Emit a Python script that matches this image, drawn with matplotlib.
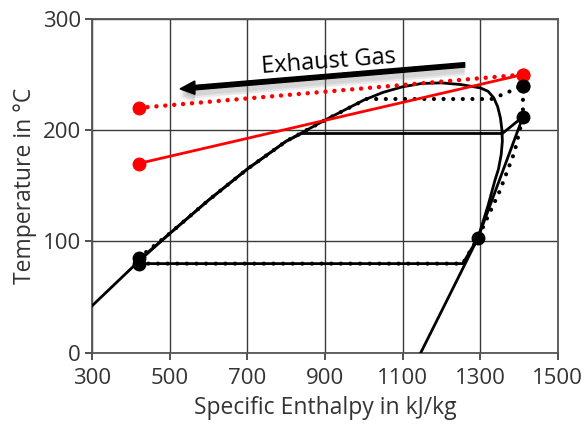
import matplotlib.pyplot as plt
import matplotlib.patheffects as pe
from matplotlib.patches import Polygon, FancyArrow

plt.rcParams['font.family'] = ['Open Sans', 'DejaVu Sans']

# saturation curve of the working fluid (bubble side up, over the top, dew side down)
sat_h = [300, 420, 500, 600, 700, 800, 900, 1000, 1050, 1100, 1150, 1200, 1250,
         1300, 1320, 1335, 1345, 1352, 1356, 1357, 1354, 1347, 1338, 1320, 1294,
         1250, 1200, 1147]
sat_t = [42, 82, 107, 137, 165, 190, 209, 227, 234, 239, 242, 242.5, 241,
         238, 235, 229, 221, 211, 200, 190, 178, 165, 155, 132, 103,
         72, 37, 0]

# cycle 1 (solid)
c1_h = [420, 420, 500, 600, 700, 800, 840, 1357, 1410, 1294, 1255, 420]
c1_t = [80, 83, 107, 137, 165, 190, 197, 197, 212, 103, 80, 80]

# cycle 2 (dotted)
c2_h = [420, 500, 600, 700, 800, 900, 1007, 1329, 1364, 1410, 1410, 1388, 1350, 1294, 1255, 420]
c2_t = [85, 107, 137, 165, 190, 209, 228, 228, 233, 240, 212, 180, 145, 103, 80, 80]

# exhaust gas cooling lines
gas_h = [420, 1410]
gas1_t = [170, 250]
gas2_t = [220, 250]

# state points
pts_h = [420, 420, 1294, 1410, 1410]
pts_t = [80, 85, 103, 212, 240]

fig = plt.figure(figsize=(5.86, 4.30), dpi=100)
ax = fig.add_axes([0.157, 0.180, 0.795, 0.776])

ax.set_xlim(300, 1500)
ax.set_ylim(0, 300)
ax.set_xticks(range(300, 1501, 200))
ax.set_yticks(range(0, 301, 100))
ax.grid(True, color='#3a3a3a', lw=1.0, zorder=0)
for s in ax.spines.values():
    s.set_color('#555555')
    s.set_linewidth(1.3)
ax.tick_params(colors='#333333', labelsize=16, length=5, width=1.2)
ax.tick_params(axis='x', pad=6)
ax.tick_params(axis='y', pad=3)
for lab in ax.get_xticklabels() + ax.get_yticklabels():
    lab.set_color('#333333')

ax.set_xlabel('Specific Enthalpy in kJ/kg', fontsize=16.5, color='#333333', labelpad=5)
ax.set_ylabel('Temperature in °C', fontsize=16.5, color='#333333', labelpad=4)

# white label backdrop
box = Polygon([(506, 278), (1290, 302), (1290, 251), (506, 229)], closed=True,
              facecolor='white', edgecolor='none', zorder=1, clip_on=True)
ax.add_patch(box)

ax.plot(sat_h, sat_t, color='black', lw=2.0, zorder=3)
ax.plot(c1_h, c1_t, color='black', lw=2.0, zorder=3)
ax.plot(c2_h, c2_t, color='black', lw=3.0, linestyle=(0, (0.01, 2.3)),
        dash_capstyle='round', zorder=4)

ax.plot(gas_h, gas1_t, color='red', lw=2.0, zorder=5)
ax.plot(gas_h, gas2_t, color='red', lw=3.2, linestyle=(0, (0.01, 2.0)),
        dash_capstyle='round', zorder=5)

ax.plot(pts_h, pts_t, 'o', color='black', ms=9, zorder=6)
ax.plot(gas_h, gas1_t, 'o', color='red', ms=9, zorder=7)
ax.plot(gas_h, gas2_t, 'o', color='red', ms=9, zorder=7)
ax.plot([1410], [240], 'o', color='black', ms=9, zorder=8)

arrow = FancyArrow(1260, 258.7, -733, -21.6, width=4.0, head_width=12, head_length=38,
                   length_includes_head=True, color='black', zorder=9)
shadows = [pe.SimplePatchShadow(offset=(0, -k), shadow_rgbFace='#888888', alpha=0.18)
           for k in (1.5, 3.0, 4.5, 6.0)]
arrow.set_path_effects(shadows + [pe.Normal()])
ax.add_patch(arrow)

ax.text(910, 261, 'Exhaust Gas', fontsize=17, rotation=4.3, ha='center', va='center',
        color='black', zorder=10)

fig.savefig('out.png', dpi=100)
